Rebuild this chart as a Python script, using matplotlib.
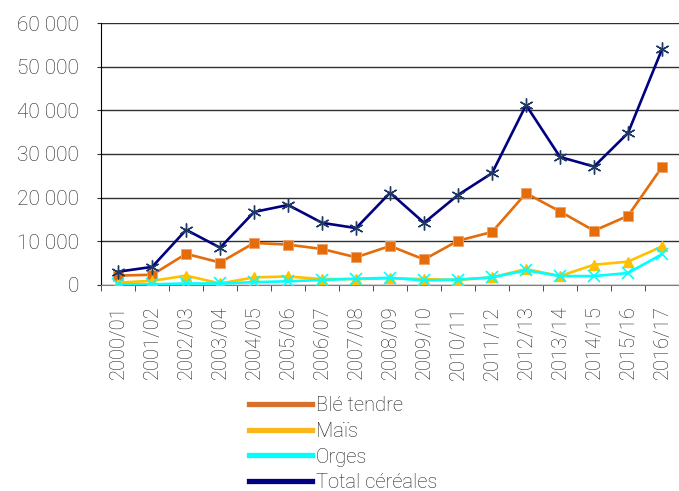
import matplotlib.pyplot as plt
from matplotlib.lines import Line2D
from matplotlib.ticker import FuncFormatter, FixedLocator
import numpy as np

campagnes = ['2000/01', '2001/02', '2002/03', '2003/04', '2004/05', '2005/06',
             '2006/07', '2007/08', '2008/09', '2009/10', '2010/11', '2011/12',
             '2012/13', '2013/14', '2014/15', '2015/16', '2016/17']
ble_tendre = [2100, 2300, 7100, 5100, 9600, 9200, 8200, 6300, 8900, 5800,
              10100, 12100, 21000, 16800, 12400, 15800, 27000]
mais = [500, 900, 2100, 300, 1700, 1900, 1300, 1300, 1500, 1300,
        1100, 1700, 3600, 2000, 4600, 5300, 8800]
orges = [100, 100, 300, 300, 600, 800, 1100, 1400, 1600, 1000,
         1200, 1700, 3300, 2000, 2000, 2700, 7000]
total = [3000, 4100, 12600, 8500, 16700, 18300, 14200, 13000, 21100, 14200,
         20600, 25600, 41200, 29300, 27100, 34800, 54000]

plt.rcParams['font.family'] = ['Roboto', 'DejaVu Sans']
plt.rcParams['font.weight'] = 'light'
txt = '#222222'

fig = plt.figure(figsize=(6.79, 4.91), dpi=100)
ax = fig.add_axes([0.149, 0.420, 0.851, 0.533])

x = np.arange(len(campagnes))
ax.plot(x, ble_tendre, color='#E46C0A', lw=1.9, marker='s', ms=7, mec='#F2A06A', mew=0.6, zorder=3)
ax.plot(x, mais, color='#FFC000', lw=1.9, marker='^', ms=7, zorder=3)
ax.plot(x, orges, color='#00FFFF', lw=1.9, marker='x', ms=8, mew=1.2, zorder=4)
ax.plot(x, total, color='#000080', lw=1.9, marker=(6, 2, 0), ms=10, mec='#1F3864', mew=1.0, zorder=5)

ax.set_xlim(-0.5, len(campagnes) - 0.5)
ax.set_ylim(0, 60000)
ax.set_yticks(range(0, 60001, 10000))
ax.yaxis.set_major_formatter(FuncFormatter(lambda v, p: f'{int(v):,}'.replace(',', ' ')))
ax.yaxis.grid(True, color='#303030', lw=1.0)
ax.set_axisbelow(True)

ax.set_xticks(x)
ax.set_xticklabels(campagnes, rotation=90, fontsize=14.5, color=txt)
ax.xaxis.set_minor_locator(FixedLocator(np.arange(-0.5, len(campagnes), 1)))
ax.tick_params(axis='x', which='major', length=0, pad=15)
ax.tick_params(axis='x', which='minor', length=4, color='#303030')
ax.tick_params(axis='y', labelsize=15, labelcolor=txt, length=3, color='#303030', pad=13)

for s in ['top', 'right']:
    ax.spines[s].set_visible(False)
ax.spines['left'].set_color('black')
ax.spines['bottom'].set_color('#808080')

handles = [Line2D([], [], color='#D8702E', lw=3.8),
           Line2D([], [], color='#FBB61A', lw=3.8),
           Line2D([], [], color='#00FFFF', lw=3.8),
           Line2D([], [], color='#000080', lw=3.8)]
labels = ['Blé tendre', 'Maïs', 'Orges', 'Total céréales']
fig.legend(handles, labels, loc='upper left', bbox_to_anchor=(0.367, 0.193),
           frameon=False, fontsize=14.5, labelcolor=txt, handlelength=3.1,
           handletextpad=0.2, labelspacing=0.33, borderaxespad=0, borderpad=0)

fig.savefig('out.png', dpi=100)
